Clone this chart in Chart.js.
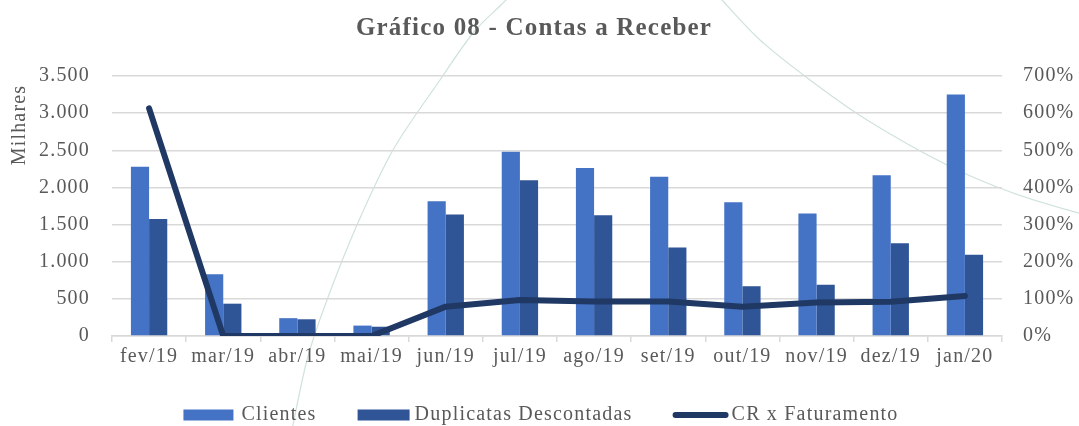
<!DOCTYPE html>
<html>
<head>
<meta charset="utf-8">
<script src="https://cdn.jsdelivr.net/npm/chart.js@4.4.1/dist/chart.umd.min.js"></script>
<style>
  html, body { margin: 0; padding: 0; background: #ffffff; }
  #wrap { position: relative; width: 1079px; height: 426px; overflow: hidden; }
  #deco { position: absolute; left: 0; top: 0; }
  #c { position: absolute; left: 0; top: 0; }
</style>
</head>
<body>
<div id="wrap">
  <svg id="deco" width="1079" height="426" viewBox="0 0 1079 426">
    <path id="arc1" d="" fill="none" stroke="#cfe2de" stroke-width="1.2"/>
    <path id="arc2" d="" fill="none" stroke="#cfe2de" stroke-width="1.2"/>
  </svg>
  <canvas id="c" width="1079" height="426"></canvas>
</div>
<script>
const categories = ["fev/19","mar/19","abr/19","mai/19","jun/19","jul/19","ago/19","set/19","out/19","nov/19","dez/19","jan/20"];
const clientes = [2280, 830, 240, 140, 1815, 2480, 2260, 2145, 1800, 1650, 2165, 3250];
const duplicatas = [1575, 435, 225, 125, 1635, 2095, 1625, 1190, 670, 690, 1250, 1095];
const crFaturamento = [613, 0, 0, 0, 79, 97, 93, 93, 79, 90, 92, 108];
const seriesNames = ["Clientes", "Duplicatas Descontadas", "CR x Faturamento"];
const chartTitle = "Gráfico 08 - Contas a Receber";
const unitLabel = "Milhares";

const FONT = "'Liberation Serif', 'Times New Roman', serif";
const TXT = "#595959";
const SPACING = "1.2px";

// decorative background watermark arcs (not data)
function smoothPath(p) {
  let d = "M" + p[0][0] + "," + p[0][1];
  for (let i = 0; i < p.length - 1; i++) {
    const p0 = p[i - 1] || p[i], p1 = p[i], p2 = p[i + 1], p3 = p[i + 2] || p2;
    const c1 = [p1[0] + (p2[0] - p0[0]) / 6, p1[1] + (p2[1] - p0[1]) / 6];
    const c2 = [p2[0] - (p3[0] - p1[0]) / 6, p2[1] - (p3[1] - p1[1]) / 6];
    d += " C" + c1.join(",") + " " + c2.join(",") + " " + p2.join(",");
  }
  return d;
}
document.getElementById('arc1').setAttribute('d', smoothPath([[290,440],[307,360],[327,300],[357,225],[393,150],[440,80],[473,33],[500,6],[512,-6]]));
document.getElementById('arc2').setAttribute('d', smoothPath([[712,-10],[722,0],[760,40],[810,80],[867,120],[947,165],[1013,193],[1085,215]]));

function fmtThousands(v) {
  return String(v).replace(/\B(?=(\d{3})+(?!\d))/g, ".");
}

const spacingPlugin = {
  id: 'spacing',
  beforeLayout(chart) { chart.ctx.letterSpacing = SPACING; },
  beforeDraw(chart) { chart.ctx.letterSpacing = SPACING; }
};

const decorPlugin = {
  id: 'decor',
  afterDraw(chart) {
    const ctx = chart.ctx;
    ctx.save();
    ctx.letterSpacing = SPACING;
    // title
    ctx.fillStyle = TXT;
    ctx.font = "bold 25px " + FONT;
    ctx.textAlign = "center";
    ctx.textBaseline = "middle";
    ctx.fillText(chartTitle, 534, 29);
    // unit label
    ctx.save();
    ctx.translate(20, 125);
    ctx.rotate(-Math.PI / 2);
    ctx.font = "20px " + FONT;
    ctx.fillText(unitLabel, 0, 0);
    ctx.restore();
    // legend
    ctx.font = "20px " + FONT;
    ctx.textAlign = "left";
    const ds = chart.data.datasets;
    const order = [1, 2, 0];
    const w = order.map(i => ctx.measureText(ds[i].label).width);
    const total = 50 + 8 + w[0] + 41 + 52 + 5 + w[1] + 40 + 56 + 3 + w[2];
    let x = 541 - total / 2;
    const yc = 415;
    ctx.fillStyle = ds[1].backgroundColor;
    ctx.fillRect(x, yc - 5.5, 50, 11);
    x += 58;
    ctx.fillStyle = TXT;
    ctx.fillText(ds[1].label, x, yc);
    x += w[0] + 41;
    ctx.fillStyle = ds[2].backgroundColor;
    ctx.fillRect(x, yc - 5.5, 52, 11);
    x += 57;
    ctx.fillStyle = TXT;
    ctx.fillText(ds[2].label, x, yc);
    x += w[1] + 40;
    ctx.strokeStyle = ds[0].borderColor;
    ctx.lineWidth = 6;
    ctx.lineCap = "round";
    ctx.beginPath();
    ctx.moveTo(x + 3, yc);
    ctx.lineTo(x + 53, yc);
    ctx.stroke();
    x += 59;
    ctx.fillStyle = TXT;
    ctx.fillText(ds[0].label, x, yc);
    ctx.restore();
  }
};

new Chart(document.getElementById('c'), {
  data: {
    labels: categories,
    datasets: [
      {
        type: 'line',
        label: seriesNames[2],
        data: crFaturamento,
        yAxisID: 'y1',
        borderColor: '#203864',
        backgroundColor: '#203864',
        borderWidth: 6,
        borderCapStyle: 'round',
        borderJoinStyle: 'round',
        pointRadius: 0,
        tension: 0,
        order: 0
      },
      {
        type: 'bar',
        label: seriesNames[0],
        data: clientes,
        yAxisID: 'y',
        backgroundColor: '#4472C4',
        categoryPercentage: 0.49,
        barPercentage: 1.0,
        order: 1
      },
      {
        type: 'bar',
        label: seriesNames[1],
        data: duplicatas,
        yAxisID: 'y',
        backgroundColor: '#2F5597',
        categoryPercentage: 0.49,
        barPercentage: 1.0,
        order: 2
      }
    ]
  },
  options: {
    responsive: false,
    animation: false,
    devicePixelRatio: 1,
    layout: { padding: { top: 76, left: 0, right: 0, bottom: 0 } },
    plugins: {
      legend: { display: false },
      title: { display: false },
      tooltip: { enabled: false }
    },
    scales: {
      x: {
        type: 'category',
        afterFit(s) { s.height = 90; },
        grid: {
          offset: true,
          drawOnChartArea: false,
          drawTicks: true,
          tickLength: 6,
          color: '#D9D9D9',
          lineWidth: 1.5
        },
        border: { display: true, color: '#D9D9D9', width: 1.5 },
        ticks: {
          color: TXT,
          font: { family: FONT, size: 20 },
          padding: 3,
          maxRotation: 0,
          autoSkip: false
        }
      },
      y: {
        position: 'left',
        min: 0,
        max: 3500,
        afterFit(s) { s.width = 112; },
        grid: { color: '#D9D9D9', lineWidth: 1.5, drawTicks: false },
        border: { display: false },
        ticks: {
          stepSize: 500,
          color: TXT,
          font: { family: FONT, size: 20 },
          padding: 22,
          callback: v => fmtThousands(v)
        }
      },
      y1: {
        position: 'right',
        min: 0,
        max: 700,
        afterFit(s) { s.width = 77; },
        grid: { display: false, drawTicks: false },
        border: { display: false },
        ticks: {
          stepSize: 100,
          color: TXT,
          font: { family: FONT, size: 20 },
          padding: 21,
          callback: v => v + '%'
        }
      }
    }
  },
  plugins: [spacingPlugin, decorPlugin]
});
</script>
</body>
</html>
